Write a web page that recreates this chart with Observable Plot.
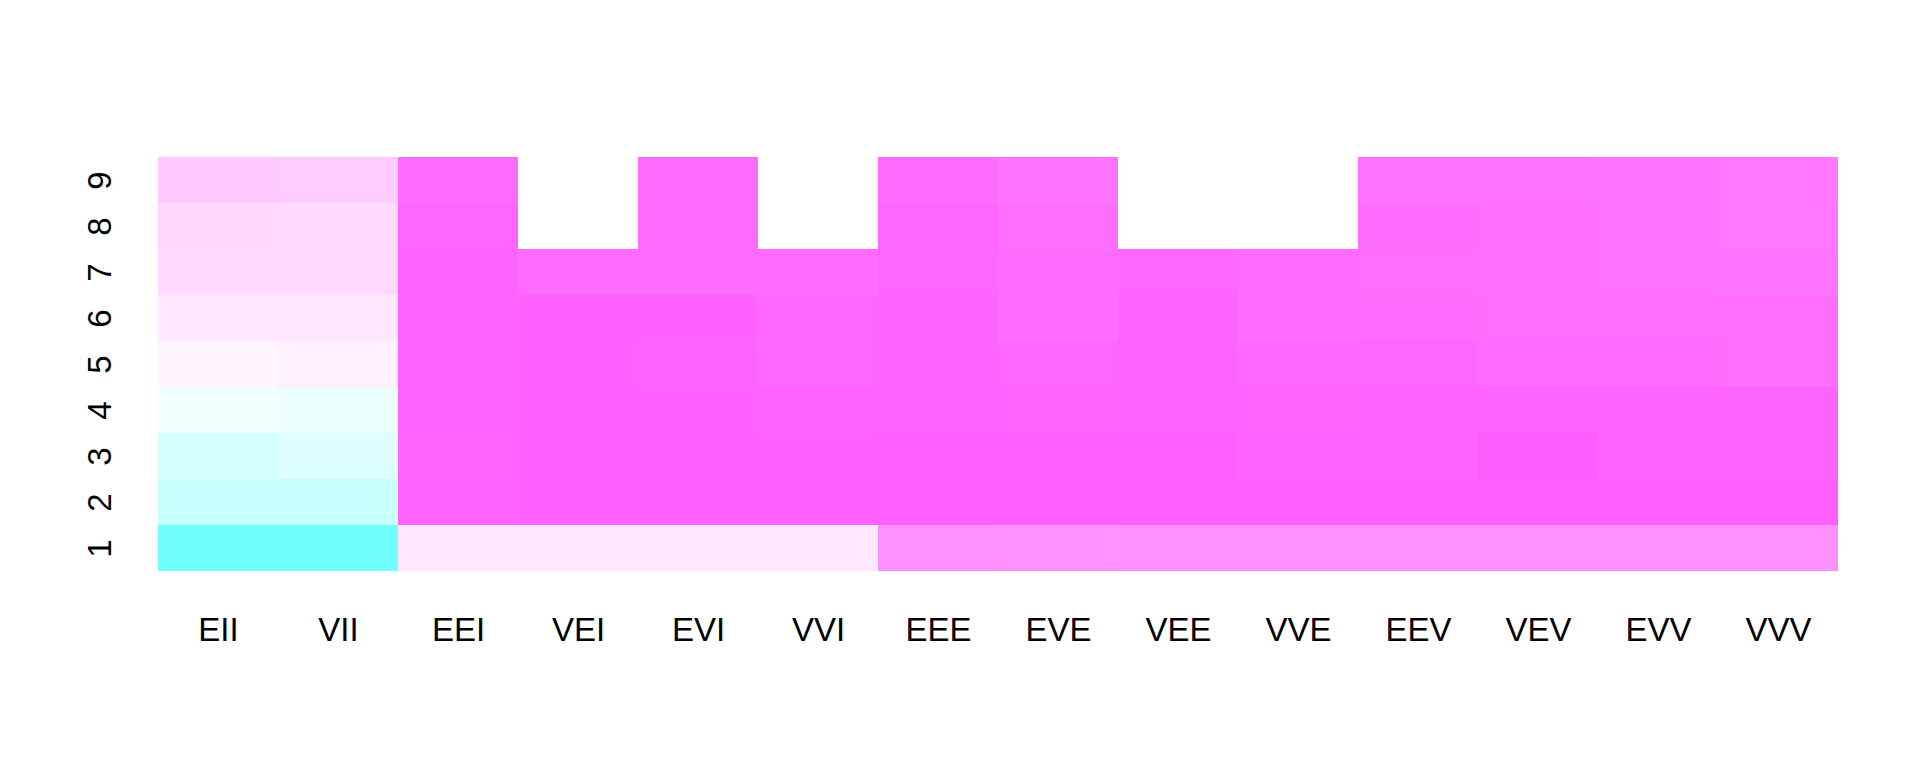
<!DOCTYPE html>
<html>
<head>
<meta charset="utf-8">
<script src="https://cdn.jsdelivr.net/npm/d3@7"></script>
<script src="https://cdn.jsdelivr.net/npm/@observablehq/plot@0.6"></script>
<style>
  html, body { margin: 0; padding: 0; background: #ffffff; }
  #chart svg { display: block; }
</style>
</head>
<body>
<div id="chart"></div>
<script>
// Model names (columns) and number of components (rows)
const models = ["EII","VII","EEI","VEI","EVI","VVI","EEE","EVE","VEE","VVE","EEV","VEV","EVV","VVV"];
const components = [1,2,3,4,5,6,7,8,9];

// Relative BIC score (-100 = cyan end, 0 = white, 100 = magenta end)
// One row per number of components, one value per model; null = not fitted
const scoreK1 = [-88,-88, 14, 14, 14, 14, 68, 67, 68, 68, 68, 68, 68, 68];
const scoreK2 = [-34,-34, 96, 97, 97, 97, 98, 98, 98, 98, 98, 98, 98, 98];
const scoreK3 = [-26,-20, 95, 97, 97, 97, 98, 98, 99, 96, 96,100, 96, 96];
const scoreK4 = [ -9,-12, 96, 97, 97, 96, 96, 95, 96, 95, 96, 96, 96, 96];
const scoreK5 = [  6,  9, 96, 97, 96, 93, 96, 94, 96, 93, 94, 90, 90, 89];
const scoreK6 = [ 14, 14, 96, 97, 97, 94, 96, 90, 96, 90, 91, 89, 89, 89];
const scoreK7 = [ 23, 23, 96, 91, 91, 90, 94, 91, 93, 90, 89, 89, 87, 85];
const scoreK8 = [ 25, 23, 94,null, 90,null, 94, 89,null,null, 90, 88, 85, 84];
const scoreK9 = [ 34, 31, 90,null, 90,null, 91, 86,null,null, 87, 87, 85, 83];
const scoreRows = [scoreK1,scoreK2,scoreK3,scoreK4,scoreK5,scoreK6,scoreK7,scoreK8,scoreK9];

const cells = [];
components.forEach((k, i) => {
  models.forEach((m, j) => {
    const v = scoreRows[i][j];
    if (v !== null) cells.push({model: m, k: String(k), score: v});
  });
});

const font = "'Liberation Sans Narrow', 'Liberation Sans', Arial, sans-serif";

const chart = Plot.plot({
  width: 1920,
  height: 768,
  marginLeft: 157,
  marginRight: 81,
  marginTop: 157,
  marginBottom: 197,
  style: {fontFamily: font, fontSize: "33px", color: "#000", background: "#fff"},
  x: {type: "band", domain: models, padding: 0, label: null},
  y: {type: "band", domain: components.map(String).reverse(), padding: 0, label: null},
  color: {
    type: "linear",
    domain: [-100, 100],
    interpolate: d3.piecewise(d3.interpolateRgb, ["#5cffff", "#ffffff", "#ff5cff"])
  },
  marks: [
    Plot.cell(cells, {x: "model", y: "k", fill: "score", inset: 0}),
    Plot.axisX({anchor: "bottom", tickSize: 0, tickPadding: 59, lineAnchor: "middle", fontSize: 33, label: null}),
    Plot.axisY({anchor: "left", tickSize: 0, tickPadding: 57, tickRotate: -90, textAnchor: "middle", lineAnchor: "middle", fontSize: 33, label: null})
  ]
});
document.getElementById("chart").appendChild(chart);
</script>
</body>
</html>
